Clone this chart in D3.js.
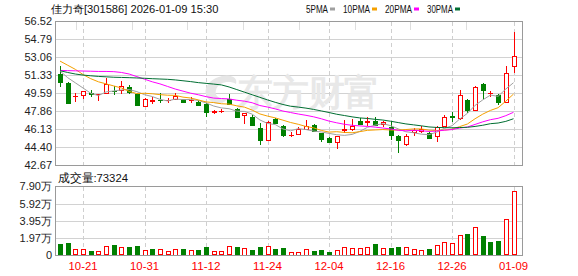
<!DOCTYPE html>
<html>
<head>
<meta charset="utf-8">
<script src="https://cdn.jsdelivr.net/npm/d3@7"></script>
<style>
  body { margin: 0; background: #fff; }
  text { font-family: "Liberation Sans", Arial, sans-serif; }
</style>
</head>
<body>
<div id="chart"></div>
<script>
var width = 578;
var height = 276;

var dates = ["10-16","10-17","10-20","10-21","10-22","10-23","10-24","10-27","10-28","10-29","10-30","10-31",
  "11-03","11-04","11-05","11-06","11-07","11-10","11-11","11-12","11-13","11-14","11-17","11-18","11-19","11-20","11-21","11-24","11-25","11-26","11-27","11-28",
  "12-01","12-02","12-03","12-04","12-05","12-08","12-09","12-10","12-11","12-12","12-15","12-16","12-17","12-18","12-19","12-22","12-23","12-24","12-25","12-26","12-29","12-30","12-31",
  "01-05","01-06","01-07","01-08","01-09"];

var open = [51.45,50.58,49.30,49.38,49.60,49.49,49.65,49.86,49.91,50.17,
  49.54,48.41,48.86,48.98,48.92,49.07,49.01,48.90,48.78,48.53,
  47.80,47.84,49.04,48.05,47.47,47.33,46.21,45.08,47.08,46.43,
  45.56,45.66,46.11,46.50,45.73,45.30,44.92,46.08,46.14,46.94,
  46.82,46.91,46.58,46.34,45.47,44.67,45.88,45.95,45.73,45.47,
  46.48,47.38,47.16,48.94,47.98,50.46,49.59,49.43,48.72,52.27];
var high = [52.22,50.68,49.59,49.86,49.91,49.55,51.07,50.29,50.75,50.36,
  49.62,49.11,49.26,49.59,49.17,49.65,49.07,49.20,48.94,48.68,
  47.98,48.10,49.49,48.14,47.69,47.49,46.69,46.94,47.18,46.53,
  45.88,46.37,47.01,46.63,45.76,45.37,45.47,47.01,47.11,47.18,
  47.33,47.33,46.94,46.91,45.52,45.66,46.24,46.43,45.88,46.43,
  47.49,47.80,49.91,49.04,50.29,50.54,49.81,49.52,52.22,55.46];
var low = [50.20,48.60,48.78,49.07,49.26,48.88,49.59,49.45,49.52,49.49,
  48.46,48.24,48.56,48.68,48.68,49.07,48.75,48.68,48.39,47.33,
  47.59,47.66,48.46,47.18,46.63,46.43,44.60,45.01,46.63,45.34,
  45.34,45.61,46.11,45.88,44.92,44.89,44.18,45.73,45.95,46.53,
  46.43,46.43,46.31,45.13,43.86,44.53,45.47,45.79,45.15,44.92,
  46.37,46.85,47.06,47.66,47.88,49.07,49.20,48.43,48.62,51.58];
var close = [50.65,48.68,49.36,49.78,49.50,49.53,50.46,49.80,50.30,49.69,
  48.49,49.01,48.90,48.93,48.95,49.36,48.78,48.95,48.46,47.76,
  47.85,47.88,48.56,47.27,47.66,46.53,45.08,46.85,46.75,45.55,
  45.60,46.14,46.43,45.98,45.15,44.92,45.47,46.13,46.43,46.63,
  46.87,46.53,46.82,45.52,45.05,45.47,46.05,46.14,45.25,46.31,
  47.27,47.33,49.38,47.98,50.17,49.91,49.65,48.78,51.52,53.19];
var volume = [13170,14300,7440,7440,5150,5150,10530,12020,9390,9730,
  10880,6300,7440,7440,5150,7790,7440,6300,6300,9730,
  5150,5150,10530,9730,8590,6300,9730,10530,7440,8590,
  4390,4390,7820,5150,6300,4000,6300,10110,8210,8210,
  9350,13170,8210,8590,9730,9350,7060,6300,7440,11640,
  15460,14310,23090,24620,32250,22330,15460,16980,41420,73324];

// moving-average values before a full window exists
var ma5Head = [51.75,51.1,50.6,50.1];
var ma10Head = [52.7,52.3,51.9,51.4,51.0,50.7,50.5,50.3,50.1];
var ma20Head = [51.8,51.78,51.76,51.74,51.72,51.7,51.7,51.68,51.6,51.45,51.2,50.95,50.7,50.5,50.25,50.0,49.8,49.6,49.45];
var ma30Head = [51.77,51.6,51.45,51.35,51.28,51.22,51.18,51.14,51.12,51.1,51.07,51.04,51.0,50.97,50.94,50.88,50.8,50.72,50.62,50.55,50.48,50.4,50.2,49.95,49.7,49.45,49.2,48.95,48.72];

var priceTicks = [56.52,54.79,53.06,51.33,49.59,47.86,46.13,44.40,42.67];
var volTicks = [0,19700,39500,59200,79000];
var volTickLabels = ["0","1.97万","3.95万","5.92万","7.90万"];
var dateTicks = ["10-21","10-31","11-12","11-24","12-04","12-16","12-26","01-09"];
var maNames = ["5PMA","10PMA","20PMA","30PMA"];
var maColors = ["#a0a0a0","#f5a000","#ff00ff","#006e32"];

var svg = d3.select("#chart").append("svg")
    .attr("width", width)
    .attr("height", height);

var left = 55.5, right = 522.5;
var pTop = 21.5, pBot = 165;
var vTop = 186.5, vBot = 255.5;

var x = d3.scalePoint().domain(dates).range([60, 513.5]);
var y = d3.scaleLinear().domain([42.67, 56.52]).range([pBot, pTop]);
var yv = d3.scaleLinear().domain([0, 79000]).range([vBot, vTop]);

function ma(n, head) {
    return close.map(function (c, i) {
        if (i < n - 1) return head[i];
        return d3.mean(close.slice(i - n + 1, i + 1));
    });
}
var maData = [ma(5, ma5Head), ma(10, ma10Head), ma(20, ma20Head), ma(30, ma30Head)];

// grid
var grid = svg.append("g").attr("shape-rendering", "crispEdges");
grid.selectAll(".ph").data(priceTicks.slice(1, -1)).enter().append("line")
    .attr("x1", left).attr("x2", right)
    .attr("y1", d => Math.round(y(d)) + 0.5).attr("y2", d => Math.round(y(d)) + 0.5)
    .attr("stroke", "#d2d2d2");
grid.selectAll(".vh").data(volTicks.slice(1, -1)).enter().append("line")
    .attr("x1", left).attr("x2", right)
    .attr("y1", d => Math.round(yv(d)) + 0.5).attr("y2", d => Math.round(yv(d)) + 0.5)
    .attr("stroke", "#d2d2d2");
dateTicks.forEach(function (d) {
    var xx = Math.round(x(d)) + 0.5;
    grid.append("line").attr("x1", xx).attr("x2", xx).attr("y1", pTop).attr("y2", pBot)
        .attr("stroke", "#cfcfcf").attr("stroke-dasharray", "4,3");
    grid.append("line").attr("x1", xx).attr("x2", xx).attr("y1", vTop).attr("y2", vBot)
        .attr("stroke", "#cfcfcf").attr("stroke-dasharray", "4,3");
});
// short ticks under the top edge
for (var k = 0; k < 8; ++k) {
    var tx = Math.round(76 + k * 55.7) + 0.5;
    grid.append("line").attr("x1", tx).attr("x2", tx).attr("y1", pTop).attr("y2", pTop + 8)
        .attr("stroke", "#dedede");
}

// watermark
var wm = svg.append("g").attr("opacity", 1);
wm.append("path")
    .attr("d", "M214,103 C200,96 204,80 222,76 C232,74 238,78 236,84 C230,80 218,82 216,90 C214,96 220,100 228,99 C222,104 218,105 214,103 Z")
    .attr("fill", "#e6e6e6");
wm.append("text")
    .attr("x", 237).attr("y", 105)
    .attr("font-family", "Noto Sans CJK SC")
    .attr("font-weight", "bold")
    .attr("font-size", 36)
    .attr("fill", "#e8e8e8")
    .attr("textLength", 143)
    .attr("lengthAdjust", "spacingAndGlyphs")
    .text("东方财富");

// candles
var up = (i) => close[i] >= open[i];
var cg = svg.append("g").attr("shape-rendering", "crispEdges");
dates.forEach(function (d, i) {
    var cx = Math.round(x(d));
    var col = up(i) ? "#ff0000" : "#008000";
    var top = Math.round(y(Math.max(open[i], close[i])));
    var bot = Math.round(y(Math.min(open[i], close[i])));
    cg.append("line").attr("x1", cx + 0.5).attr("x2", cx + 0.5)
        .attr("y1", y(high[i])).attr("y2", y(low[i])).attr("stroke", col);
    if (bot - top < 1) {
        cg.append("line").attr("x1", cx - 2).attr("x2", cx + 3)
            .attr("y1", top + 0.5).attr("y2", top + 0.5).attr("stroke", col);
    } else if (up(i)) {
        cg.append("rect").attr("x", cx - 1.5).attr("y", top + 0.5)
            .attr("width", 4).attr("height", bot - top)
            .attr("fill", "#fff").attr("stroke", col);
    } else {
        cg.append("rect").attr("x", cx - 2).attr("y", top)
            .attr("width", 5).attr("height", bot - top + 1)
            .attr("fill", col);
    }
});

// moving averages
var line = d3.line().x((d, i) => x(dates[i])).y(d => y(d));
maData.forEach(function (m, k) {
    svg.append("path").datum(m)
        .attr("d", line)
        .attr("fill", "none")
        .attr("stroke", maColors[k])
        .attr("stroke-width", 1);
});

// volume bars
var vg = svg.append("g").attr("shape-rendering", "crispEdges");
dates.forEach(function (d, i) {
    var cx = Math.round(x(d));
    var rise = i == 0 ? up(i) : close[i] >= close[i - 1];
    var h = Math.round(vBot - yv(volume[i]));
    if (rise) {
        vg.append("rect").attr("x", cx - 1.5).attr("y", Math.round(yv(volume[i])) + 0.5)
            .attr("width", 4).attr("height", h - 1)
            .attr("fill", "#fff").attr("stroke", "#ff0000");
    } else {
        vg.append("rect").attr("x", cx - 2).attr("y", Math.round(yv(volume[i])))
            .attr("width", 5).attr("height", h)
            .attr("fill", "#008000");
    }
});

// frames
svg.append("rect").attr("x", left).attr("y", pTop).attr("width", right - left).attr("height", pBot - pTop)
    .attr("fill", "none").attr("stroke", "#9a9a9a").attr("shape-rendering", "crispEdges");
svg.append("rect").attr("x", left).attr("y", vTop).attr("width", right - left).attr("height", vBot - vTop)
    .attr("fill", "none").attr("stroke", "#9a9a9a").attr("shape-rendering", "crispEdges");

// axis labels
svg.selectAll(".pl").data(priceTicks).enter().append("text")
    .attr("x", 52).attr("y", d => y(d)).attr("dy", "0.36em")
    .attr("text-anchor", "end").attr("font-size", 11).attr("fill", "#222")
    .text(d => d.toFixed(2));
svg.selectAll(".vl").data(volTicks).enter().append("text")
    .attr("x", 52).attr("y", d => yv(d)).attr("dy", "0.36em")
    .attr("text-anchor", "end").attr("font-size", 11).attr("fill", "#222")
    .attr("font-family", "'Liberation Sans', 'Noto Sans CJK SC'")
    .text((d, i) => volTickLabels[i]);
svg.selectAll(".dl").data(dateTicks).enter().append("text")
    .attr("x", d => x(d)).attr("y", 270)
    .attr("text-anchor", "middle").attr("font-size", 11).attr("fill", "#ff0000")
    .attr("font-family", "'Liberation Mono', monospace")
    .attr("textLength", 29).attr("lengthAdjust", "spacingAndGlyphs")
    .text(d => d);

// title and legend
svg.append("text").attr("x", 50.5).attr("y", 12.5)
    .attr("font-size", 11).attr("fill", "#111")
    .attr("font-family", "'Liberation Mono', 'Noto Sans CJK SC', monospace")
    .attr("textLength", 168).attr("lengthAdjust", "spacingAndGlyphs")
    .text("佳力奇[301586] 2026-01-09 15:30");

var legX = [306, 343, 385, 427];
var legW = [22, 27, 27, 26];
maNames.forEach(function (n, k) {
    svg.append("text").attr("x", legX[k]).attr("y", 12.5)
        .attr("font-size", 10.5).attr("fill", "#111")
        .attr("font-family", "'Liberation Mono', monospace")
        .attr("textLength", legW[k]).attr("lengthAdjust", "spacingAndGlyphs")
        .text(n);
    svg.append("rect").attr("x", legX[k] + legW[k] + 2).attr("y", 7.5)
        .attr("width", 5).attr("height", 3).attr("fill", maColors[k]);
});

svg.append("text").attr("x", 58).attr("y", 182)
    .attr("font-size", 11.5).attr("fill", "#111")
    .attr("font-family", "'Noto Sans CJK SC', 'Liberation Sans'")
    .attr("textLength", 70).attr("lengthAdjust", "spacingAndGlyphs")
    .text("成交量:" + volume[volume.length - 1]);
</script>
</body>
</html>
